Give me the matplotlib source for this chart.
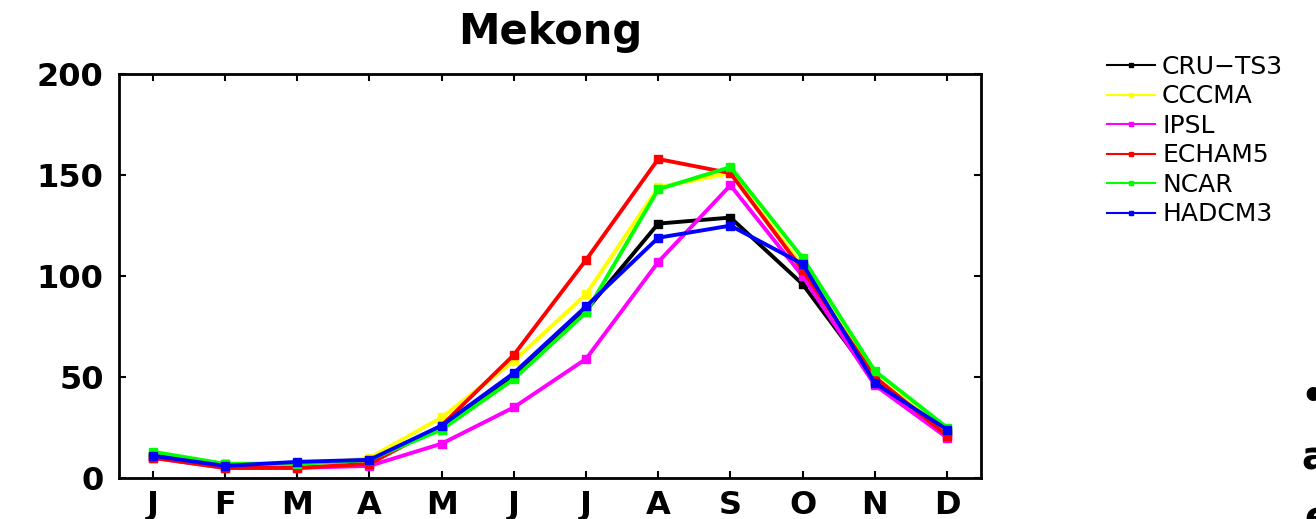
import matplotlib.pyplot as plt
from matplotlib.lines import Line2D

plt.rcParams['font.family'] = ['DejaVu Sans']

months = ['J', 'F', 'M', 'A', 'M', 'J', 'J', 'A', 'S', 'O', 'N', 'D']
x = list(range(1, 13))

# monthly values
cru_ts3 = [11, 7, 7, 9, 25, 50, 83, 126, 129, 96, 48, 23]
cccma = [10, 6, 6, 10, 30, 58, 91, 144, 151, 105, 50, 23]
ipsl = [10, 5, 5, 6, 17, 35, 59, 107, 145, 100, 46, 20]
echam5 = [10, 5, 5, 7, 26, 61, 108, 158, 151, 103, 50, 21]
ncar = [13, 7, 7, 9, 24, 49, 82, 143, 154, 109, 53, 25]
hadcm3 = [11, 6, 8, 9, 26, 52, 85, 119, 125, 106, 47, 24]

series = [
    ('CRU\u2212TS3', cru_ts3, 'black'),
    ('CCCMA', cccma, '#ffff00'),
    ('IPSL', ipsl, '#ff00ff'),
    ('ECHAM5', echam5, '#ff0000'),
    ('NCAR', ncar, '#00ff00'),
    ('HADCM3', hadcm3, '#0000ff'),
]

fig = plt.figure(figsize=(13.16, 5.19), dpi=100)
ax = fig.add_axes([0.0904, 0.079, 0.655, 0.778])

handles = []
for name, vals, col in series:
    ax.plot(x, vals, color=col, linewidth=2.8, marker='s', markersize=5.5)
    handles.append(Line2D([], [], color=col, linewidth=1.5, marker='s', markersize=2.5, label=name))

ax.set_xlim(0.53, 12.47)
ax.set_ylim(0, 200)
ax.set_xticks(x)
ax.set_xticklabels(months)
ax.set_yticks([0, 50, 100, 150, 200])
ax.tick_params(direction='in', length=5, width=1.5, top=True, right=True, labelsize=23)
ax.tick_params(axis='x', pad=9)
ax.tick_params(axis='y', pad=11)
for lab in ax.get_xticklabels() + ax.get_yticklabels():
    lab.set_fontweight('bold')
for sp in ax.spines.values():
    sp.set_linewidth(2)

ax.set_title('Mekong', fontsize=30, fontweight='bold', pad=22)

fig.legend(handles=handles, loc='upper left', bbox_to_anchor=(0.8336, 0.9135),
           frameon=False, fontsize=18, handlelength=1.92, handletextpad=0.28,
           labelspacing=0.22, borderaxespad=0)

# slide text cut off at the right edge
fig.text(1300 / 1316, 1 - 397 / 519, '\u2022', fontsize=28, fontweight='bold', va='center')
fig.text(1301 / 1316, 1 - 458 / 519, 'a', fontsize=28, fontweight='bold', va='center')
fig.text(1304 / 1316, 1 - 518 / 519, 'e', fontsize=28, fontweight='bold', va='center')

fig.savefig('out.png', dpi=100)
